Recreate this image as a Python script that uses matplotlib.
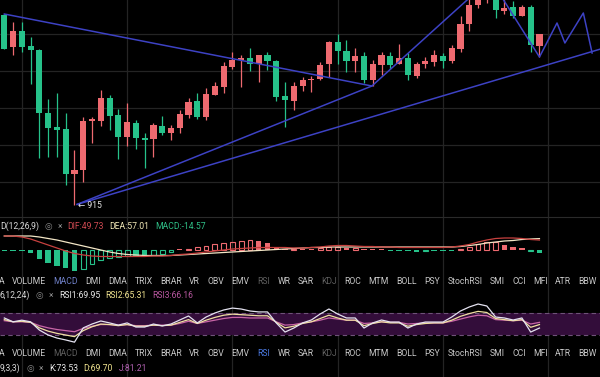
import numpy as np
import matplotlib
matplotlib.use("Agg")
import matplotlib.pyplot as plt

# ---- candle data (one bar per period) ----
opens = [1010, 994, 1002, 994.5, 992.5, 961, 954, 953, 930.5, 932.5,
         957, 957, 968.5, 960, 949, 956, 948.5, 948, 954.5, 951,
         953.5, 960, 967, 959, 970, 974, 984, 987.5, 988.5, 985.5,
         990, 987, 969.5, 967, 974.5, 977.5, 978, 985.5, 996.5, 992,
         987, 989.5, 977.5, 985, 989.5, 985.5, 988.5, 979.5, 985.5, 986.5,
         989.5, 987, 993, 1005.5, 1015, 1020, 1020, 1012, 1014, 1009.5,
         1014, 994.5]
highs = [1010.5, 1006.5, 1006.5, 999, 993, 968, 971, 961, 942.5, 959,
         959, 972.5, 970, 963, 966, 957.5, 951, 956, 959.5, 955,
         962.5, 968.5, 971, 973.5, 976.5, 986.5, 991.5, 990, 993.5, 990,
         991.5, 987.5, 976.5, 976.5, 979, 979.5, 986.5, 997, 1000.5, 997.5,
         993.5, 991.5, 987.5, 991.5, 991.5, 995.5, 991, 986.5, 989, 992.5,
         991, 995, 1009.5, 1018, 1022, 1028, 1022, 1018, 1017, 1015,
         1015, 1000.5]
lows = [993, 990, 991.5, 975.5, 938.5, 939, 939, 925, 915, 926.5,
        946, 954.5, 952.5, 938, 944.5, 943, 933.5, 939, 950, 947.5,
        951, 958.5, 958, 957.5, 970, 971, 983, 974, 982, 976.5,
        982.5, 967, 954, 962.5, 972, 971.5, 977.5, 979, 985.5, 981.5,
        981.5, 976, 974.5, 980, 983, 985.5, 977.5, 978.5, 983.5, 984.5,
        983.5, 986, 991.5, 1002, 1013.5, 1016, 1008.5, 1010.5, 1008.5, 1009.5,
        991.5, 989]
closes = [993, 1002, 994, 992.5, 961, 953.5, 952.5, 930.5, 932.5, 957,
          958, 968.5, 959.5, 949, 956.5, 948.5, 947.5, 955, 951, 953.5,
          960.5, 966.5, 959, 970.5, 974.5, 984.5, 987.5, 988.5, 985.5, 990,
          987, 969, 967.5, 974.5, 977.5, 978, 985, 996.5, 992, 987,
          989.5, 977.5, 985.5, 990, 985, 988.5, 980, 985.5, 987, 990,
          987, 993.5, 1005.5, 1015, 1019, 1025, 1012.5, 1013.5, 1009.5, 1014,
          995, 1000.5]

# ---- drawn trend lines (bar index, price) ----
fan_x = [0, 41.9]
fan_y = [1010.5, 974.5]
zig_x = [8.3, 41.9, 55.4, 61, 63, 63.9, 66, 67]
zig_y = [915.3, 974.5, 1028, 989, 1006, 996, 1011, 991]
ray_x = [8.3, 67.9]
ray_y = [915.3, 992.9]
low_label = "915"

# ---- MACD(12,26,9) ----
macd_hist = [-2.5, -2.5, -5, -15, -45, -65, -80, -90, -105, -95,
             -70, -50, -40, -35, -30, -30, -30, -25, -20, -10,
             5, 5, 15, 20, 30, 35, 40, 45, 50, 45,
             35, 15, 5, 5, 2.5, 2.5, 10, 15, 17.5, 10,
             10, 2.5, 1.5, 1.5, -2.5, -2.5, -5, -7.5, -5, -5,
             -2.5, -1.5, 5, 15, 30, 40, 42.5, 25, 15, 10, -5, -14.57]
dif = [70, 70, 65, 55, 40, 25, 10, -5, -17.5, -25,
       -30, -32.5, -32.5, -32.5, -32.5, -32.5, -32.5, -30, -30, -27.5,
       -22.5, -20, -15, -10, -5, 0, 5, 7.5, 10, 12.5,
       12.5, 12.5, 12.5, 10, 10, 12.5, 15, 20, 22.5, 22.5,
       20, 17.5, 17.5, 15, 15, 12.5, 12.5, 12.5, 12.5, 12.5,
       12.5, 15, 20, 27.5, 40, 50, 57.5, 60, 60, 57.5, 52.5, 49.73]
dea = [70, 70, 70, 70, 65, 57.5, 50, 40, 30, 20,
       10, 0, -10, -17.5, -22.5, -25, -27.5, -27.5, -27.5, -27.5,
       -25, -22.5, -20, -17.5, -15, -12.5, -10, -7.5, -5, -2.5,
       0, 2.5, 5, 7.5, 10, 12.5, 12.5, 15, 15, 15,
       15, 15, 15, 15, 15, 15, 15, 15, 15, 15,
       15, 15, 17.5, 22.5, 27.5, 35, 40, 45, 47.5, 52.5, 55, 57.01]

# ---- RSI(6,12,24) ----
rsi1 = [61, 54, 57, 54, 39, 30, 24.5, 21, 17, 43,
        50, 55.5, 52, 48, 52, 44.5, 44.5, 50, 46.5, 50,
        57.3, 64.6, 52, 62.7, 70, 75.5, 79, 77.3, 73.7, 72,
        72, 52, 35.4, 42.7, 52, 57.3, 68.2, 77.3, 68.2, 61,
        61, 42.7, 52, 57.3, 53.6, 53.6, 42.7, 50, 53.6, 53.6,
        53.6, 62.7, 73.7, 81, 86.4, 82.8, 62.7, 61, 57.3, 61, 35.4, 42.7]
rsi2 = [58, 54, 55, 53, 43, 37, 33, 30, 27, 38,
        45, 50, 49, 47, 49, 46, 46, 48, 47, 48,
        53, 58, 51, 57, 62, 66, 68, 67, 66, 65,
        65, 53, 43, 46, 51, 54, 60, 66, 61, 57,
        57, 47, 51, 54, 52, 52, 46, 49, 51, 52,
        52, 57, 64, 69, 73, 71, 60, 58, 56, 58, 44, 49]
rsi3 = [56, 54, 54, 53, 47, 43, 40, 38, 36, 42,
        46, 49, 49, 48, 49, 47, 47, 48, 48, 48,
        51, 55, 51, 54, 57, 60, 62, 62, 61, 61,
        61, 54, 48, 49, 52, 54, 57, 61, 59, 57,
        57, 51, 52, 54, 53, 53, 50, 51, 52, 52,
        52, 55, 59, 63, 66, 65, 58, 57, 56, 57, 50, 53]

tabs = ["A", "VOLUME", "MACD", "DMI", "DMA", "TRIX", "BRAR", "VR", "OBV", "EMV",
        "RSI", "WR", "SAR", "KDJ", "ROC", "MTM", "BOLL", "PSY", "StochRSI", "SMI",
        "CCI", "MFI", "ATR", "BBW"]

RED = "#ee6a70"
GREEN = "#26c28a"
LINE_BLUE = "#3d42c4"
GRID = "#242424"
FONT = ["Roboto", "DejaVu Sans"]

W, H = 600, 377
fig = plt.figure(figsize=(6, 3.77), dpi=100, facecolor="black")


def fy(px):
    return 1 - px / H


idx = np.arange(len(opens))
xlim = (-0.49, 67.9)

# background axes: vertical grid through all panels
bg = fig.add_axes([0, 0, 1, 1])
bg.set_facecolor("black")
bg.set_xlim(*xlim)
bg.set_ylim(0, H)
for gx in range(2, 68, 12):
    bg.axvline(gx, color=GRID, lw=0.9)
bg.axhline(H - 217, color="#2a2a2a", lw=0.8)
bg.axis("off")

# ---- main candle panel ----
ax = fig.add_axes([0, fy(217), 1, 217 / H])
ax.set_facecolor("none")
o = np.array(opens)
c = np.array(closes)
cols = [RED if cc >= oo else GREEN for oo, cc in zip(o, c)]
ax.vlines(idx, lows, highs, colors=cols, lw=0.9, zorder=3)
body = np.maximum(np.abs(c - o), 0.7)
ax.bar(idx, body, bottom=np.minimum(o, c), width=0.7, color=cols, zorder=4)
ax.plot(fan_x, fan_y, color=LINE_BLUE, lw=1.1, zorder=5)
ax.plot(zig_x, zig_y, color=LINE_BLUE, lw=1.1, zorder=5)
ax.plot(ray_x, ray_y, color=LINE_BLUE, lw=1.1, zorder=5)
ax.text(zig_x[0] + 0.05, float(low_label), "\u2190 " + low_label, color="#e6e6e6",
        fontsize=6.2, va="center", ha="left", family=FONT, zorder=6)
ax.set_xlim(*xlim)
ax.set_ylim(909, 1017.5)
ax.set_yticks(np.arange(926.5, 1010, 18.5))
ax.grid(axis="y", color=GRID, lw=0.9)
ax.tick_params(length=0, labelleft=False, labelbottom=False)
ax.set_xticks([])
for s in ax.spines.values():
    s.set_visible(False)

# ---- MACD panel ----
am = fig.add_axes([0, fy(272), 1, 41 / H])
am.set_facecolor("none")
hist = np.array(macd_hist)
prev = np.concatenate([[hist[0]], hist[:-1]])
hh = np.where(np.abs(hist) < 4, np.sign(hist + 1e-9) * 4, hist)
for i, v in enumerate(hist):
    col = RED if v > 0 else GREEN
    growing = abs(v) >= abs(prev[i])
    solid = (v < 0 and growing) or (v > 0 and not growing) or abs(v) < 4
    if solid:
        am.bar(i, hh[i], width=0.62, color=col, lw=0)
    else:
        am.bar(i, hh[i], width=0.55, facecolor="none", edgecolor=col, lw=0.8)
am.plot(idx, dea, color="#f3e6c6", lw=0.9)
am.plot(idx, dif, color="#c8413f", lw=0.9)
am.set_xlim(*xlim)
am.set_ylim(-110, 95)
am.axis("off")

# ---- RSI panel ----
ar = fig.add_axes([0, fy(346), 1, 46 / H])
ar.set_facecolor("none")
ar.axhspan(30, 70, color="#330d3a", lw=0)
for lv in (30, 70):
    ar.axhline(lv, color="#6e5278", lw=0.8, ls=(0, (4, 3)))
ar.plot(idx, rsi3, color="#c764a6", lw=0.9)
ar.plot(idx, rsi2, color="#efe0a0", lw=0.9)
ar.plot(idx, rsi1, color="#e4e2f0", lw=0.9)
ar.set_xlim(*xlim)
ar.set_ylim(10, 93.7)
ar.axis("off")

# ---- text rows ----
fig.canvas.draw()
rend = fig.canvas.get_renderer()


def text_row(y_px, items, x0=0.0, gap=5.5, size=6.2):
    x = x0
    for s, col in items:
        t = fig.text(x / W, fy(y_px), s, color=col, fontsize=size, va="center",
                     ha="left", family=FONT)
        x += t.get_window_extent(rend).width + gap


text_row(226.5, [("D(12,26,9)", "#d8d8d8"), ("\u25ce", "#8a8a8a"), ("\u00d7", "#8a8a8a"),
                 ("DIF:49.73", "#cf4a52"), ("DEA:57.01", "#f3e9b8"),
                 ("MACD:-14.57", "#2fbf87")])
text_row(295.5, [("6,12,24)", "#d8d8d8"), ("\u25ce", "#8a8a8a"), ("\u00d7", "#8a8a8a"),
                 ("RSI1:69.95", "#e8e8e8"), ("RSI2:65.31", "#efe28e"),
                 ("RSI3:66.16", "#b8579f")])
text_row(368.5, [("9,3,3)", "#d8d8d8"), ("\u25ce", "#8a8a8a"), ("\u00d7", "#8a8a8a"),
                 ("K:73.53", "#e8e8e8"), ("D:69.70", "#efe28e"),
                 ("J:81.21", "#b060b0")])

dim = "#5e5e5e"
tab1 = {"MACD": "#6f80c8", "RSI": dim, "KDJ": dim}
tab2 = {"MACD": dim, "RSI": "#4a78e0", "KDJ": dim}
text_row(282, [(s, tab1.get(s, "#c8c8c8")) for s in tabs], x0=-1, gap=7.4)
text_row(354, [(s, tab2.get(s, "#c8c8c8")) for s in tabs], x0=-1, gap=7.4)

fig.savefig("out.png", dpi=100, facecolor="black")
